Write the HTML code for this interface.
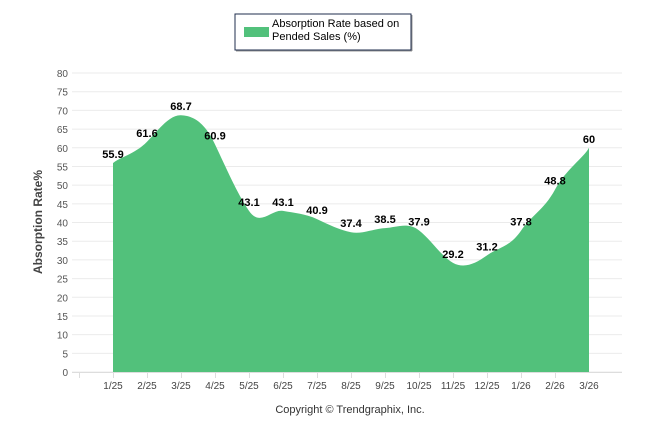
<!DOCTYPE html>
<html><head><meta charset="utf-8"><style>
body{margin:0;background:#fff;font-family:"Liberation Sans",sans-serif}
</style></head><body>
<svg id="c" width="646" height="434" xmlns="http://www.w3.org/2000/svg" font-family="Liberation Sans, sans-serif">
<g>
<rect x="235" y="14" width="176" height="36" fill="#fff" stroke="#1f2d4d" stroke-width="1"/>
<line x1="236" y1="51" x2="412" y2="51" stroke="#999"/><line x1="412" y1="15" x2="412" y2="51" stroke="#999"/>
<rect x="244" y="27" width="25" height="10" fill="#52c17b"/>
<text x="272" y="27" font-size="11" fill="#000">Absorption Rate based on</text>
<text x="272" y="40" font-size="11" fill="#000">Pended Sales (%)</text>
</g>
<g id="grid"></g><g id="area"></g><g id="labels"></g>
<text transform="translate(42,222) rotate(-90)" text-anchor="middle" font-size="12" font-weight="bold" fill="#444">Absorption Rate%</text>
<text x="350" y="413" text-anchor="middle" font-size="11" fill="#333">Copyright © Trendgraphix, Inc.</text>
</svg>
<script>
const categories=["1/25","2/25","3/25","4/25","5/25","6/25","7/25","8/25","9/25","10/25","11/25","12/25","1/26","2/26","3/26"];
const values=[55.9,61.6,68.7,60.9,43.1,43.1,40.9,37.4,38.5,37.9,29.2,31.2,37.8,48.8,60];
const yTicks=[0,5,10,15,20,25,30,35,40,45,50,55,60,65,70,75,80];
const NS="http://www.w3.org/2000/svg";
const x=i=>113+i*34, y=v=>372-v*(299/80);
function mk(t,a,p){const e=document.createElementNS(NS,t);for(const k in a)e.setAttribute(k,a[k]);p.appendChild(e);return e;}
const g=document.getElementById('grid');
yTicks.forEach(t=>{
 const l=mk('line',{x1:72,x2:622,y1:y(t),y2:y(t),stroke:'#ebebeb'},g);
 
 
 const tx=mk('text',{x:68,y:y(t)+4,'text-anchor':'end','font-size':10,fill:'#555'},g);tx.textContent=t;
 
 
});
mk('line',{x1:72,x2:622,y1:372.5,y2:372.5,stroke:'#ddd'},g);
categories.forEach((c,i)=>{
 mk('line',{x1:x(i)-34+0.5,x2:x(i)-34+0.5,y1:373,y2:378,stroke:'#ddd'},g);
 const tx=mk('text',{x:x(i),y:389,'text-anchor':'middle','font-size':10,fill:'#444'},g);tx.textContent=c;
 
 
});
const pts=values.map((v,i)=>[x(i),y(v)]);
let d=`M${pts[0][0]},${y(0)}L${pts[0][0]},${pts[0][1]}`;
for(let i=0;i<pts.length-1;i++){
 const p0=pts[Math.max(i-1,0)],p1=pts[i],p2=pts[i+1],p3=pts[Math.min(i+2,pts.length-1)];
 const t=0.25;
 const c1=[p1[0]+(p2[0]-p0[0])*t/1.5,p1[1]+(p2[1]-p0[1])*t];
 const c2=[p2[0]-(p3[0]-p1[0])*t/1.5,p2[1]-(p3[1]-p1[1])*t];
 d+=`C${c1[0]},${c1[1]} ${c2[0]},${c2[1]} ${p2[0]},${p2[1]}`;
}
d+=`L${pts[pts.length-1][0]},${y(0)}Z`;
const a=mk('path',{d:d,fill:'#52c17b'},document.getElementById('area'));


const L=document.getElementById('labels');
values.forEach((v,i)=>{
 const t=mk('text',{x:x(i),y:y(v)-5,'text-anchor':'middle','font-size':11,'font-weight':'bold',fill:'#000'},L);t.textContent=v;
 
 
});
</script>
</body></html>
